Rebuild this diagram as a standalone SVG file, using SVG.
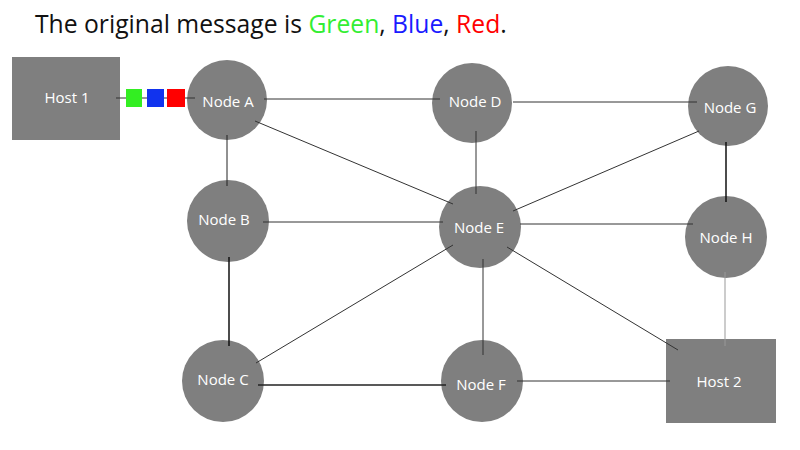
<svg xmlns="http://www.w3.org/2000/svg" width="800" height="450" viewBox="0 0 800 450">
<style>
.n{fill:#7f7f7f}
.l{fill:#fff;font-family:"Open Sans","Noto Sans",sans-serif;font-size:15px;text-anchor:middle}
.c line{stroke:#333;stroke-width:1}
.t{font-family:"Open Sans","Noto Sans",sans-serif;font-size:24.7px;fill:#111}
</style>
<rect width="800" height="450" fill="#fff"/>
<text class="t" x="35" y="33">The original message is <tspan fill="#33ee33">Green</tspan>, <tspan fill="#1a1aff">Blue</tspan>, <tspan fill="#ff0000">Red</tspan>.</text>
<g id="host1"><rect class="n" x="12" y="57" width="108" height="83"/><text class="l" x="67" y="103">Host 1</text></g>
<g id="nodeA"><circle class="n" cx="227" cy="100" r="40"/><text class="l" x="228" y="107">Node A</text></g>
<g id="nodeD"><circle class="n" cx="472" cy="103" r="40"/><text class="l" x="475" y="107">Node D</text></g>
<g id="nodeG"><circle class="n" cx="728" cy="106" r="40"/><text class="l" x="730" y="113">Node G</text></g>
<g id="nodeB"><circle class="n" cx="228" cy="221" r="41"/><text class="l" x="224" y="225">Node B</text></g>
<g id="nodeE"><circle class="n" cx="480" cy="227" r="41"/><text class="l" x="479" y="233">Node E</text></g>
<g id="nodeH"><circle class="n" cx="726" cy="237" r="41"/><text class="l" x="726" y="243">Node H</text></g>
<g id="nodeC"><circle class="n" cx="223" cy="381" r="41"/><text class="l" x="223" y="385">Node C</text></g>
<g id="nodeF"><circle class="n" cx="482" cy="381" r="41"/><text class="l" x="481" y="390">Node F</text></g>
<g id="host2"><rect class="n" x="666" y="339" width="110" height="84"/><text class="l" x="719" y="387">Host 2</text></g>
<g class="c" id="connectors">
<line x1="116" y1="98" x2="195" y2="98"/>
<line x1="264" y1="99" x2="440" y2="99"/>
<line x1="513" y1="102" x2="697" y2="102"/>
<line x1="227" y1="135" x2="227" y2="186" style="stroke:#222"/>
<line x1="255" y1="121" x2="453" y2="204"/>
<line x1="476" y1="131" x2="476" y2="194"/>
<line x1="263" y1="222" x2="443" y2="222"/>
<line x1="229" y1="257" x2="229" y2="346" style="stroke:#111;stroke-width:1.5"/>
<line x1="256" y1="363" x2="453" y2="245"/>
<line x1="483" y1="259" x2="483" y2="355"/>
<line x1="258" y1="385" x2="446" y2="385" style="stroke:#222;stroke-width:1.3"/>
<line x1="517" y1="381" x2="670" y2="381"/>
<line x1="513" y1="211" x2="699" y2="131"/>
<line x1="520" y1="224" x2="693" y2="224"/>
<line x1="507" y1="247" x2="678" y2="350"/>
<line x1="726" y1="142" x2="726" y2="202" style="stroke:#111;stroke-width:1.5"/>
<line x1="725" y1="272" x2="725" y2="346" style="stroke:#999"/>
</g>
<g id="packets">
<rect x="126" y="89" width="16" height="18" fill="#33ee22"/>
<rect x="147" y="89" width="17" height="18" fill="#1133ee"/>
<rect x="167" y="89" width="18" height="18" fill="#ff0000"/>
</g>
</svg>
